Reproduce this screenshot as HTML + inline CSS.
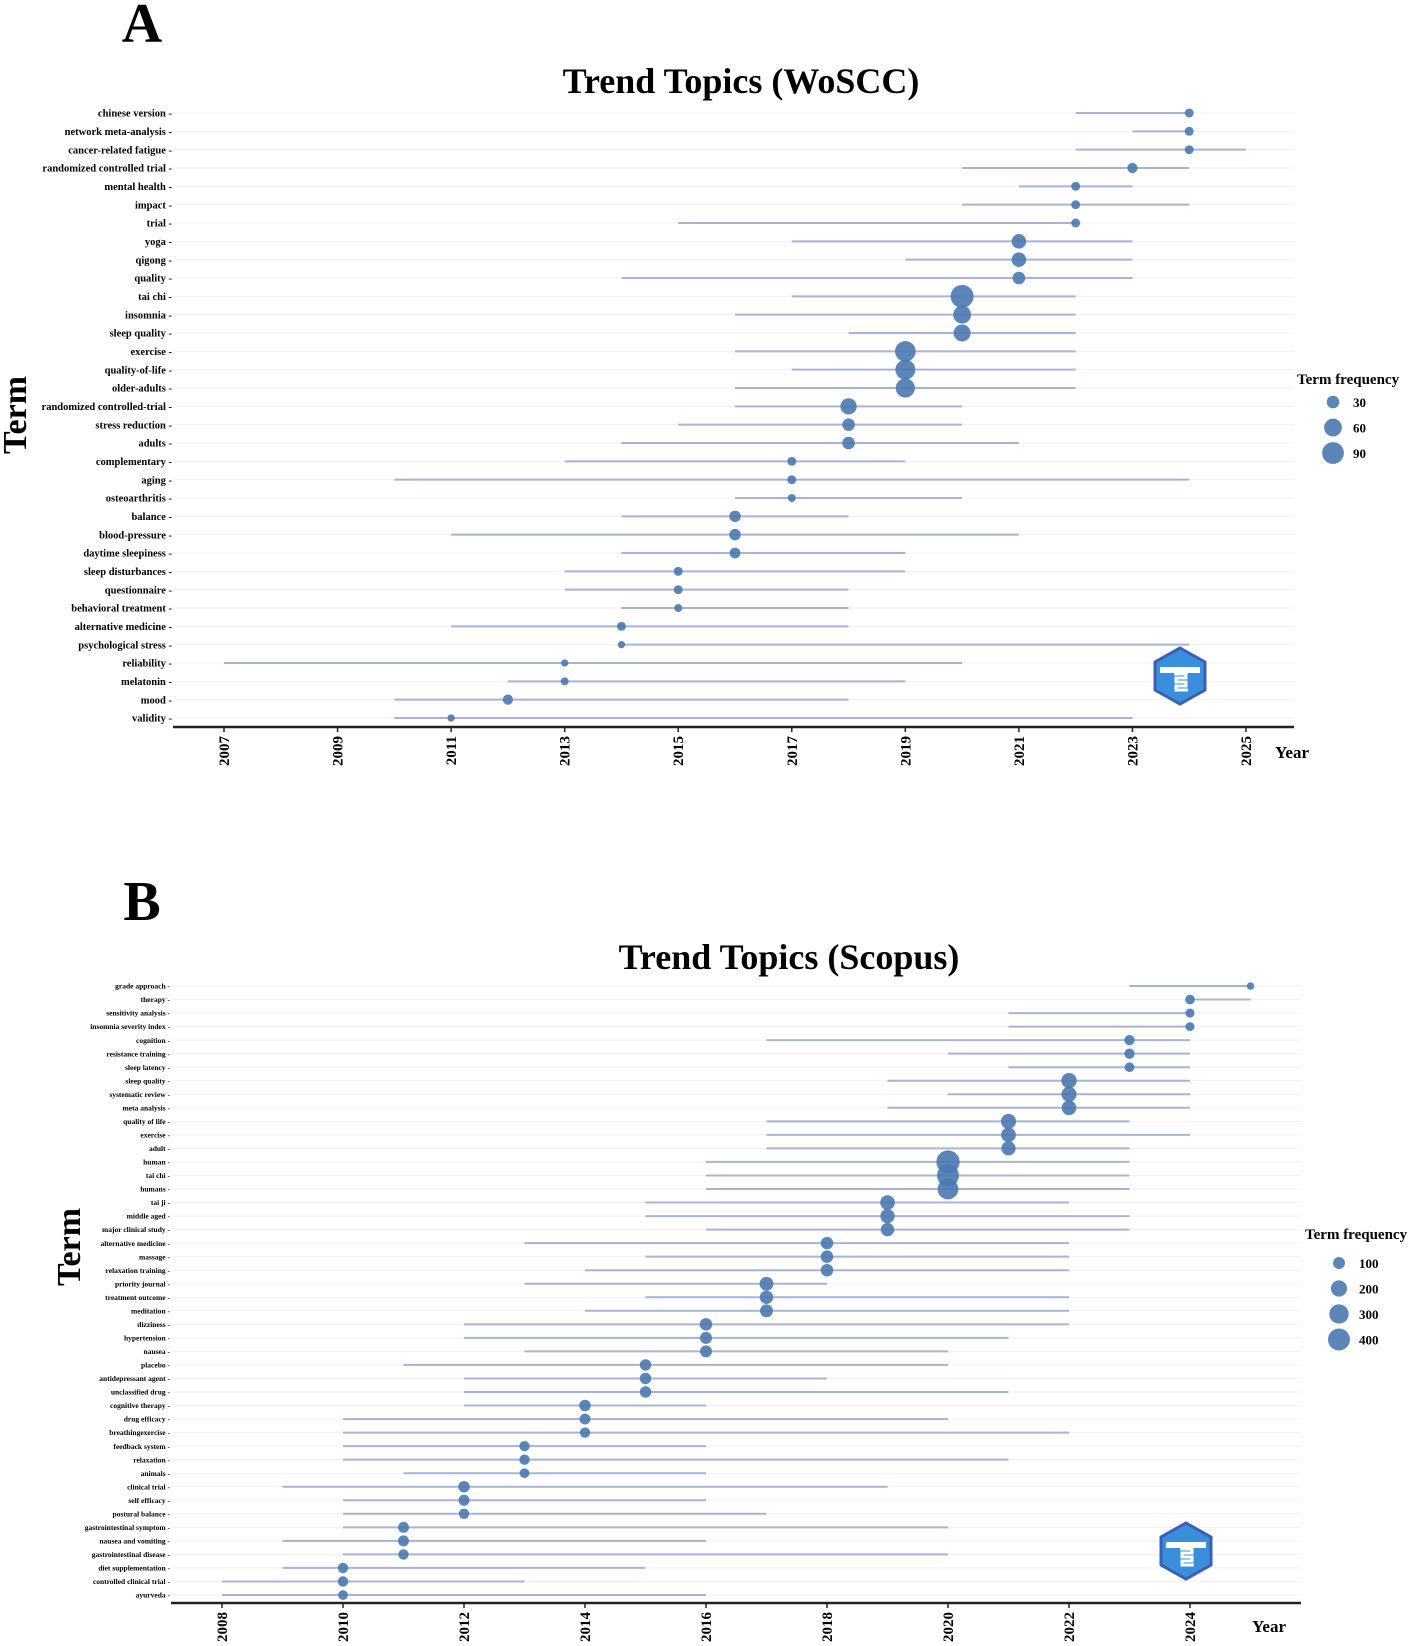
<!DOCTYPE html>
<html><head><meta charset="utf-8">
<style>
html,body{margin:0;padding:0;background:#fff;}
svg{display:block;font-family:"Liberation Serif",serif;}
</style></head>
<body>
<svg id="chart" width="1417" height="1646" viewBox="0 0 1417 1646" xmlns="http://www.w3.org/2000/svg">
<text x="142" y="42" font-size="56" font-weight="bold" text-anchor="middle">A</text>
<text x="741" y="93" font-size="36" font-weight="bold" text-anchor="middle">Trend Topics (WoSCC)</text>
<text x="142" y="920" font-size="56" font-weight="bold" text-anchor="middle">B</text>
<text x="789" y="969" font-size="36" font-weight="bold" text-anchor="middle">Trend Topics (Scopus)</text>
<g id="gA"></g>
<g id="gB"></g>
</svg>
<script>
// Panel A data
const termsA=["chinese version","network meta-analysis","cancer-related fatigue","randomized controlled trial","mental health","impact","trial","yoga","qigong","quality","tai chi","insomnia","sleep quality","exercise","quality-of-life","older-adults","randomized controlled-trial","stress reduction","adults","complementary","aging","osteoarthritis","balance","blood-pressure","daytime sleepiness","sleep disturbances","questionnaire","behavioral treatment","alternative medicine","psychological stress","reliability","melatonin","mood","validity"];
const startA=[2022,2023,2022,2020,2021,2020,2015,2017,2019,2014,2017,2016,2018,2016,2017,2016,2016,2015,2014,2013,2010,2016,2014,2011,2014,2013,2013,2014,2011,2014,2007,2012,2010,2010];
const peakA=[2024,2024,2024,2023,2022,2022,2022,2021,2021,2021,2020,2020,2020,2019,2019,2019,2018,2018,2018,2017,2017,2017,2016,2016,2016,2015,2015,2015,2014,2014,2013,2013,2012,2011];
const endA=[2024,2024,2025,2024,2023,2024,2022,2023,2023,2023,2022,2022,2022,2022,2022,2022,2020,2020,2021,2019,2024,2020,2018,2021,2019,2019,2018,2018,2018,2024,2020,2019,2018,2023];
const freqA=[15,15,15,20,15,15,15,40,40,30,100,60,55,80,75,70,50,30,30,15,15,12,25,25,22,15,15,12,15,10,10,12,20,10];
const ticksA=[2007,2009,2011,2013,2015,2017,2019,2021,2023,2025];
const legendA=[30,60,90];
// Panel B data
const termsB=["grade approach","therapy","sensitivity analysis","insomnia severity index","cognition","resistance training","sleep latency","sleep quality","systematic review","meta analysis","quality of life","exercise","adult","human","tai chi","humans","tai ji","middle aged","major clinical study","alternative medicine","massage","relaxation training","priority journal","treatment outcome","meditation","dizziness","hypertension","nausea","placebo","antidepressant agent","unclassified drug","cognitive therapy","drug efficacy","breathingexercise","feedback system","relaxation","animals","clinical trial","self efficacy","postural balance","gastrointestinal symptom","nausea and vomiting","gastrointestinal disease","diet supplementation","controlled clinical trial","ayurveda"];
const startB=[2023,2024,2021,2021,2017,2020,2021,2019,2020,2019,2017,2017,2017,2016,2016,2016,2015,2015,2016,2013,2015,2014,2013,2015,2014,2012,2012,2013,2011,2012,2012,2012,2010,2010,2010,2010,2011,2009,2010,2010,2010,2009,2010,2009,2008,2008];
const peakB=[2025,2024,2024,2024,2023,2023,2023,2022,2022,2022,2021,2021,2021,2020,2020,2020,2019,2019,2019,2018,2018,2018,2017,2017,2017,2016,2016,2016,2015,2015,2015,2014,2014,2014,2013,2013,2013,2012,2012,2012,2011,2011,2011,2010,2010,2010];
const endB=[2025,2025,2024,2024,2024,2024,2024,2024,2024,2024,2023,2024,2023,2023,2023,2023,2022,2023,2023,2022,2022,2022,2018,2022,2022,2022,2021,2020,2020,2018,2021,2016,2020,2022,2016,2021,2016,2019,2016,2017,2020,2016,2020,2015,2013,2016];
const freqB=[30,60,50,50,70,70,60,180,170,160,170,160,150,450,400,350,160,150,130,110,110,110,140,130,120,110,100,100,90,90,90,90,80,70,70,70,60,90,80,70,80,80,70,70,70,60];
const ticksB=[2008,2010,2012,2014,2016,2018,2020,2022,2024];
const legendB=[100,200,300,400];

const NS="http://www.w3.org/2000/svg";
function mk(parent,tag,attrs,text){const e=document.createElementNS(NS,tag);for(const k in attrs)e.setAttribute(k,attrs[k]);if(text!==undefined)e.textContent=text;parent.appendChild(e);return e;}

function panel(g,cfg){
  const xs=y=>cfg.x0+(y-cfg.y0)*cfg.pxPerYear;
  const n=cfg.terms.length;
  const ys=i=>cfg.top+i*(cfg.bottom-cfg.top)/(n-1);
  for(let i=0;i<n;i++){
    const l=mk(g,'line',{x1:cfg.axL,x2:cfg.axR,y1:ys(i),y2:ys(i),stroke:'#f1f1f4','stroke-width':1});
    
    
  }
  for(let i=0;i<n;i++){
    const y=ys(i);
    const lab=mk(g,'text',{x:cfg.labR,y:y+cfg.fs*0.35,'font-size':cfg.fs,'font-weight':'bold','text-anchor':'end'},cfg.terms[i]+' -');
    
    
    const ln=mk(g,'line',{x1:xs(cfg.start[i]),x2:xs(cfg.end[i]),y1:y,y2:y,stroke:'#a8b3d8','stroke-width':2});
    
    
    const c=mk(g,'circle',{cx:xs(cfg.peak[i]),cy:y,r:cfg.rad(cfg.freq[i]),fill:'#4a78b0','fill-opacity':0.9});
    
    
  }
  const ax=mk(g,'line',{x1:cfg.axL,x2:cfg.axR,y1:cfg.axY,y2:cfg.axY,stroke:'#222','stroke-width':2.5});
  
  
  cfg.ticks.forEach(t=>{
    const x=xs(t);
    const tk=mk(g,'line',{x1:x,x2:x,y1:cfg.axY,y2:cfg.axY+5,stroke:'#222','stroke-width':1.5});
    
    
    const tl=mk(g,'text',{x:0,y:0,'font-size':15,'font-weight':'bold','text-anchor':'end',transform:`translate(${x+5},${cfg.axY+9}) rotate(-90)`},String(t));
    
    
  });
  const yr=mk(g,'text',{x:cfg.yearX,y:cfg.yearY,'font-size':17,'font-weight':'bold','text-anchor':'middle'},'Year');
  
  
  const tm=mk(g,'text',{x:0,y:0,'font-size':34,'font-weight':'bold','text-anchor':'middle',transform:`translate(${cfg.termX},${cfg.termY}) rotate(-90)`},'Term');
  
  
  const lt=mk(g,'text',{x:cfg.legX,y:cfg.legY,'font-size':15,'font-weight':'bold'},'Term frequency');
  
  
  cfg.legend.forEach((v,j)=>{
    const cy=cfg.legY+cfg.legStart+j*cfg.legStep;
    const c=mk(g,'circle',{cx:cfg.legCx,cy:cy,r:cfg.rad(v),fill:'#4a78b0','fill-opacity':0.9});
    
    
    const t=mk(g,'text',{x:cfg.legCx+20,y:cy+5,'font-size':13,'font-weight':'bold'},String(v));
    
    
  });
  const lg=mk(g,'g',{transform:`translate(${cfg.logoX},${cfg.logoY})`});
  
  
  mk(lg,'polygon',{points:'0,-28 25,-14 25,14 0,28 -25,14 -25,-14',fill:'#3a8fdc',stroke:'#3a5fb5','stroke-width':3});
  mk(lg,'rect',{x:-20,y:-9,width:40,height:6,fill:'#fff'});
  mk(lg,'path',{d:'M-6,-2 h12 v4 h-10 v4 h10 v4 h-10 v4 h12',fill:'none',stroke:'#fff','stroke-width':3});
}

panel(document.getElementById('gA'),{terms:termsA,start:startA,peak:peakA,end:endA,freq:freqA,ticks:ticksA,legend:legendA,
  x0:224,y0:2007,pxPerYear:(1246-224)/18,top:113,bottom:718,axY:727,axL:173,axR:1294,labR:172,fs:10.5,
  rad:f=>1.15*Math.sqrt(f),yearX:1292,yearY:758,termX:26,termY:415,legX:1297,legY:384,legStart:18,legStep:25.5,legCx:1333,logoX:1180,logoY:676});
panel(document.getElementById('gB'),{terms:termsB,start:startB,peak:peakB,end:endB,freq:freqB,ticks:ticksB,legend:legendB,
  x0:222,y0:2008,pxPerYear:(1190-222)/16,top:986,bottom:1595,axY:1603,axL:171,axR:1301,labR:170,fs:7.5,
  rad:f=>0.5*Math.sqrt(f)+1,yearX:1269,yearY:1632,termX:80,termY:1247,legX:1305,legY:1239,legStart:24,legStep:25.5,legCx:1339,logoX:1186,logoY:1551});
</script>
</body></html>
